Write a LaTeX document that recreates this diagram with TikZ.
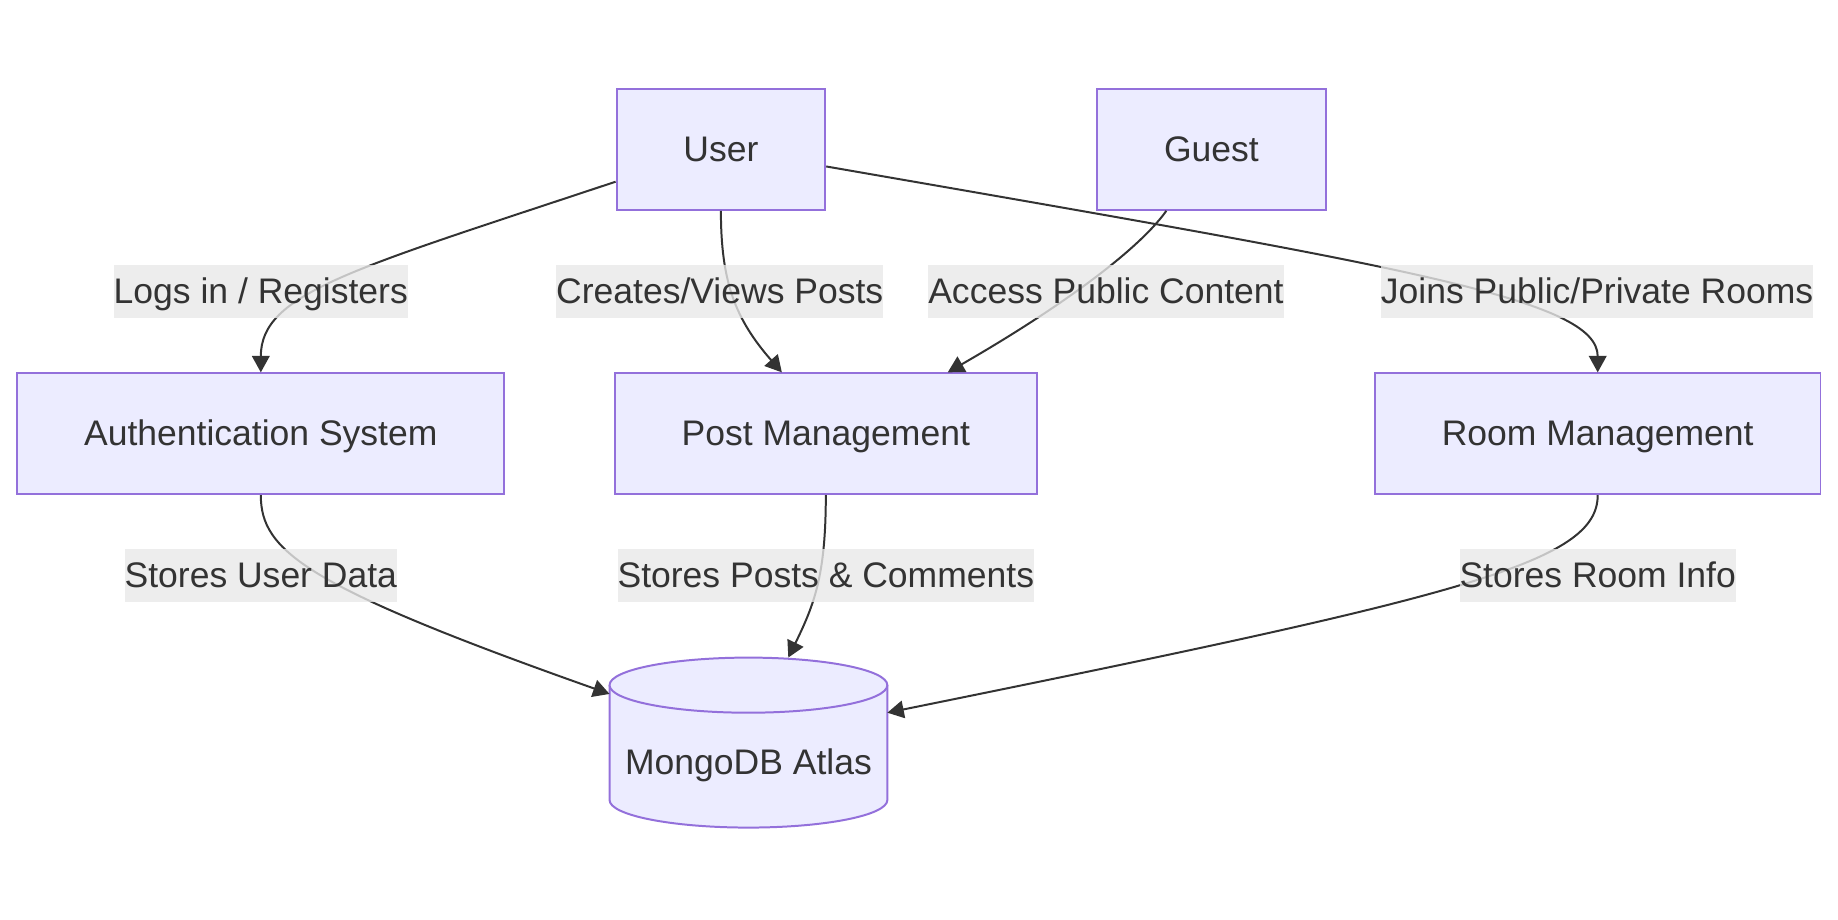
\documentclass[tikz,border=0pt]{standalone}
\usepackage{fontspec}
\setmainfont{Liberation Sans}
\usepackage{tikz}
\usetikzlibrary{arrows.meta}
\definecolor{boxfill}{HTML}{ECECFF}
\definecolor{boxline}{HTML}{9370DB}
\definecolor{ink}{HTML}{333333}
\definecolor{lblfill}{HTML}{E8E8E8}
\tikzstyle{txt}=[
	text=ink,
	text height=27pt,
	text depth=7pt,
	font=\fontsize{30.3}{36}\selectfont
]
\tikzstyle{block}=[
	txt,
	rectangle,
	draw=boxline,
	fill=boxfill,
	line width=1.7pt,
	minimum height=103pt,
	inner xsep=57pt
]
\tikzstyle{elabel}=[
	txt,
	fill=lblfill,
	fill opacity=0.8,
	text opacity=1,
	inner xsep=0pt,
	inner ysep=0pt,
	minimum height=45pt
]
\tikzstyle{edge}=[
	-{Triangle[length=14pt,width=15pt]},
	draw=ink,
	line width=1.7pt
]
\tikzstyle{db}=[
	draw=boxline,
	fill=boxfill,
	line width=1.7pt
]

\begin{document}
\begin{tikzpicture}[x=1pt,y=-1pt]
\useasboundingbox (0,0) rectangle (1568,784);

\node[block] (user) at (615,127.5) {User};
\node[block] (guest) at (1033.5,127.5) {Guest};
\node[block] (auth) at (222.5,370) {Authentication System};
\node[block] (post) at (704.5,370) {Post Management};
\node[block] (room) at (1363,370) {Room Management};

% database cylinder
\draw[db] (520,584.5) -- (520,682.5) arc[start angle=180,end angle=360,x radius=118.5pt,y radius=23.5pt] -- (757,584.5);
\draw[db] (638.5,584.5) ellipse [x radius=118.5pt,y radius=23.5pt];
\node[txt] (mongo) at (638.5,651) {MongoDB Atlas};
\coordinate (dbleft) at (520,592);
\coordinate (dbtop) at (672.5,561);
\coordinate (dbright) at (757,608);

\draw[edge] ([yshift=-27.5pt]user.west) .. controls (300,230) and (222.5,250) .. (auth.north);
\draw[edge] (user.south) .. controls (615,240) and (627,272) .. ([xshift=-37.5pt]post.north);
\draw[edge] ([xshift=-38.5pt]guest.south) .. controls (970,215) and (900,265) .. ([xshift=104pt]post.north);
\draw[edge] ([yshift=-14.5pt]user.east) .. controls (1200,228) and (1363,255) .. (room.north);

\draw[edge] (auth.south) .. controls (222.5,470) and (260,500) .. (dbleft);
\draw[edge] (post.south) .. controls (704.5,490) and (695,515) .. (dbtop);
\draw[edge] (room.south) .. controls (1363,480) and (1250,508) .. (dbright);

\node[elabel] (l1) at (222.5,248.5) {Logs in / Registers};
\node[elabel] (l2) at (614,248.5) {Creates/Views Posts};
\node[elabel] (l3) at (943.5,248.5) {Access Public Content};
\node[elabel] (l4) at (1362.5,248.5) {Joins Public/Private Rooms};
\node[elabel] (l5) at (222.5,491) {Stores User Data};
\node[elabel] (l6) at (704.5,491) {Stores Posts \& Comments};
\node[elabel] (l7) at (1363,491) {Stores Room Info};
\end{tikzpicture}
\end{document}
